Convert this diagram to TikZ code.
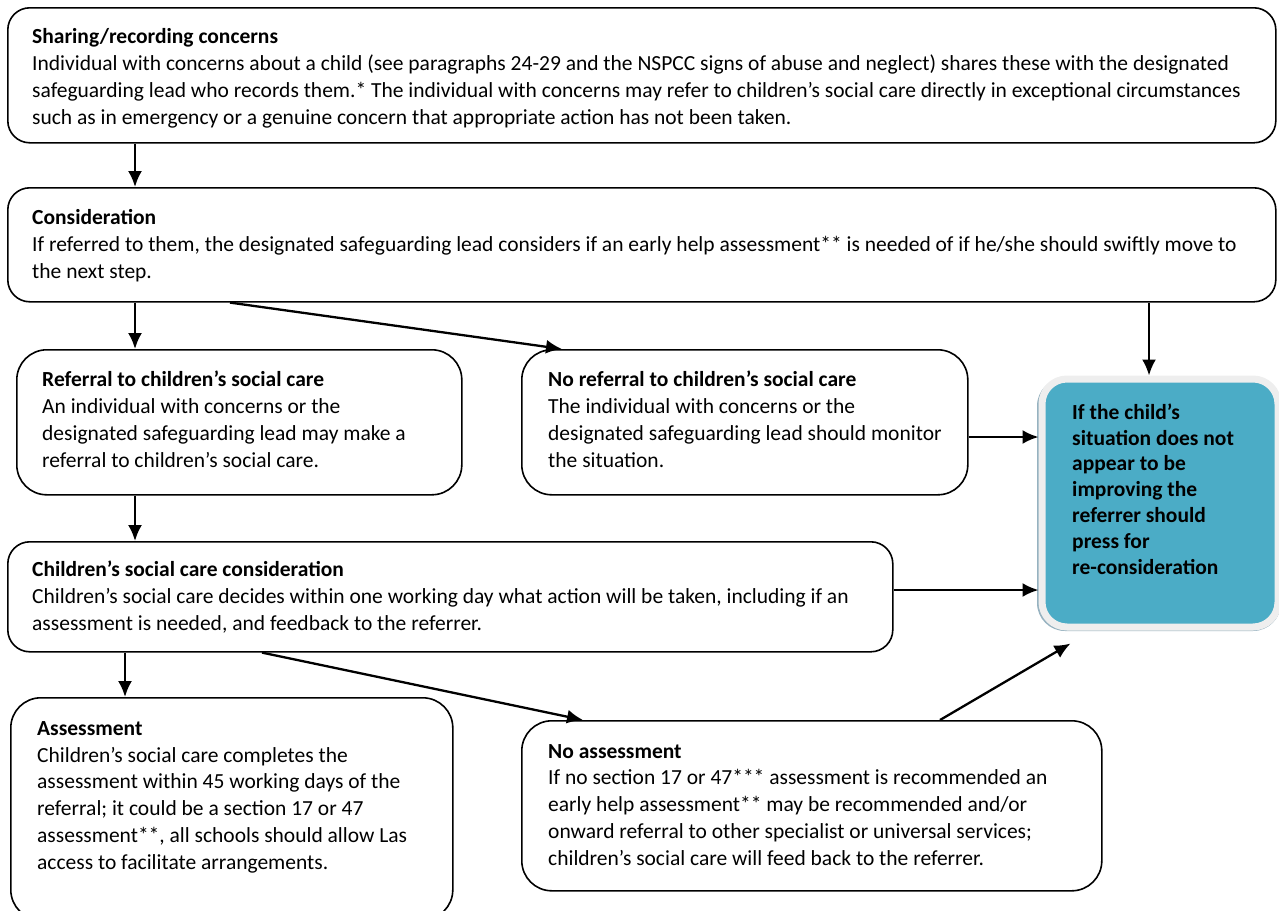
\documentclass[tikz,border=0pt]{standalone}
\usepackage{fontspec}
\setmainfont{Carlito}
\usetikzlibrary{arrows.meta}
\definecolor{reconfill}{RGB}{75,172,198}
\definecolor{reconrim}{RGB}{238,238,238}
\definecolor{reconshade}{RGB}{150,178,192}
\tikzset{
  box/.style={draw, line width=1.6pt, rounded corners=22pt, anchor=north west, inner sep=0pt},
  bigbox/.style={box, rounded corners=30pt},
  txt/.style={anchor=base west, align=left, inner sep=0pt, font=\fontsize{21.5}{26.7}\selectfont},
  arr/.style={-{Latex[length=16pt,width=14pt]}, line width=2.3pt},
}

\begin{document}
\begin{tikzpicture}[x=1pt, y=-1pt]
		%%%%% FRAME %%%%%
		\useasboundingbox (0,0) rectangle (1279,910);
		
		%%%%% BOXES (text placed by its last baseline) %%%%%
		\node[box, minimum width=1268pt, minimum height=135pt] (share) at (7,7) {};
		\node[txt] (sharetxt) at (32,124) {\textbf{Sharing/recording concerns}\\
			Individual with concerns about a child (see paragraphs 24-29 and the NSPCC signs of abuse and neglect) shares these with the designated\\
			safeguarding lead who records them.* The individual with concerns may refer to children’s social care directly in exceptional circumstances\\
			such as in emergency or a genuine concern that appropriate action has not been taken.};
		
		\node[box, minimum width=1268pt, minimum height=114pt] (consid) at (7,187) {};
		\node[txt] (considtxt) at (32,278) {\textbf{Consideration}\\
			If referred to them, the designated safeguarding lead considers if an early help assessment** is needed of if he/she should swiftly move to\\
			the next step.};
		
		\node[bigbox, minimum width=445pt, minimum height=145pt] (referral) at (16,349) {};
		\node[txt] (referraltxt) at (42,467) {\textbf{Referral to children’s social care}\\
			An individual with concerns or the\\
			designated safeguarding lead may make a\\
			referral to children’s social care.};
		
		\node[bigbox, minimum width=446pt, minimum height=145pt] (noref) at (521,349) {};
		\node[txt] (noreftxt) at (548,467) {\textbf{No referral to children’s social care}\\
			The individual with concerns or the\\
			designated safeguarding lead should monitor\\
			the situation.};
		
		\fill[reconshade, rounded corners=28pt] (1037,378) rectangle (1281,631);
		\node[draw=reconrim, fill=reconfill, line width=7pt, rounded corners=25pt, anchor=north west,
			inner sep=0pt, minimum width=236pt, minimum height=248pt] (recon) at (1038.5,375.5) {};
		\node[txt, font=\bfseries\fontsize{21.5}{25.8}\selectfont] (recontxt) at (1072,574) {If the child’s\\
			situation does not\\
			appear to be\\
			improving the\\
			referrer should\\
			press for\\
			re-consideration};
		
		\node[box, minimum width=885pt, minimum height=110pt] (cscc) at (7,541) {};
		\node[txt] (cscctxt) at (32,630) {\textbf{Children’s social care consideration}\\
			Children’s social care decides within one working day what action will be taken, including if an\\
			assessment is needed, and feedback to the referrer.};
		
		\node[bigbox, minimum width=442pt, minimum height=222pt] (assess) at (10,697) {};
		\node[txt] (assesstxt) at (37,869) {\textbf{Assessment}\\
			Children’s social care completes the\\
			assessment within 45 working days of the\\
			referral; it could be a section 17 or 47\\
			assessment**, all schools should allow Las\\
			access to facilitate arrangements.};
		
		\node[bigbox, minimum width=580pt, minimum height=170pt] (noassess) at (521,720) {};
		\node[txt] (noassesstxt) at (548,865) {\textbf{No assessment}\\
			If no section 17 or 47*** assessment is recommended an\\
			early help assessment** may be recommended and/or\\
			onward referral to other specialist or universal services;\\
			children’s social care will feed back to the referrer.};
		
		%%%%% ARROWS %%%%%
		\coordinate (considfoot) at ([xshift=1142pt]consid.south west);
		\coordinate (norefside) at ([yshift=-88pt]noref.north east);
		\coordinate (csccside) at ([yshift=-49pt]cscc.north east);
		\coordinate (reconfoot) at ([xshift=32pt,yshift=-13pt]recon.south west);
		
		\draw[arr] ([xshift=128pt]share.south west) -- ([xshift=128pt]consid.north west);
		\draw[arr] ([xshift=128pt]consid.south west) -- ([xshift=119pt]referral.north west);
		\draw[arr] ([xshift=223pt]consid.south west) -- ([xshift=41pt]noref.north west);
		\draw[arr] (considfoot) -- (considfoot |- recon.north);
		\draw[arr] (norefside) -- (norefside -| recon.west);
		\draw[arr] ([xshift=119pt]referral.south west) -- ([xshift=128pt]cscc.north west);
		\draw[arr] (csccside) -- (csccside -| recon.west);
		\draw[arr] ([xshift=118pt]cscc.south west) -- ([xshift=115pt]assess.north west);
		\draw[arr] ([xshift=255pt]cscc.south west) -- ([xshift=62pt]noassess.north west);
		\draw[arr] ([xshift=419pt]noassess.north west) -- (reconfoot);
		
		%%%%% END %%%%%
	\end{tikzpicture}
\end{document}
